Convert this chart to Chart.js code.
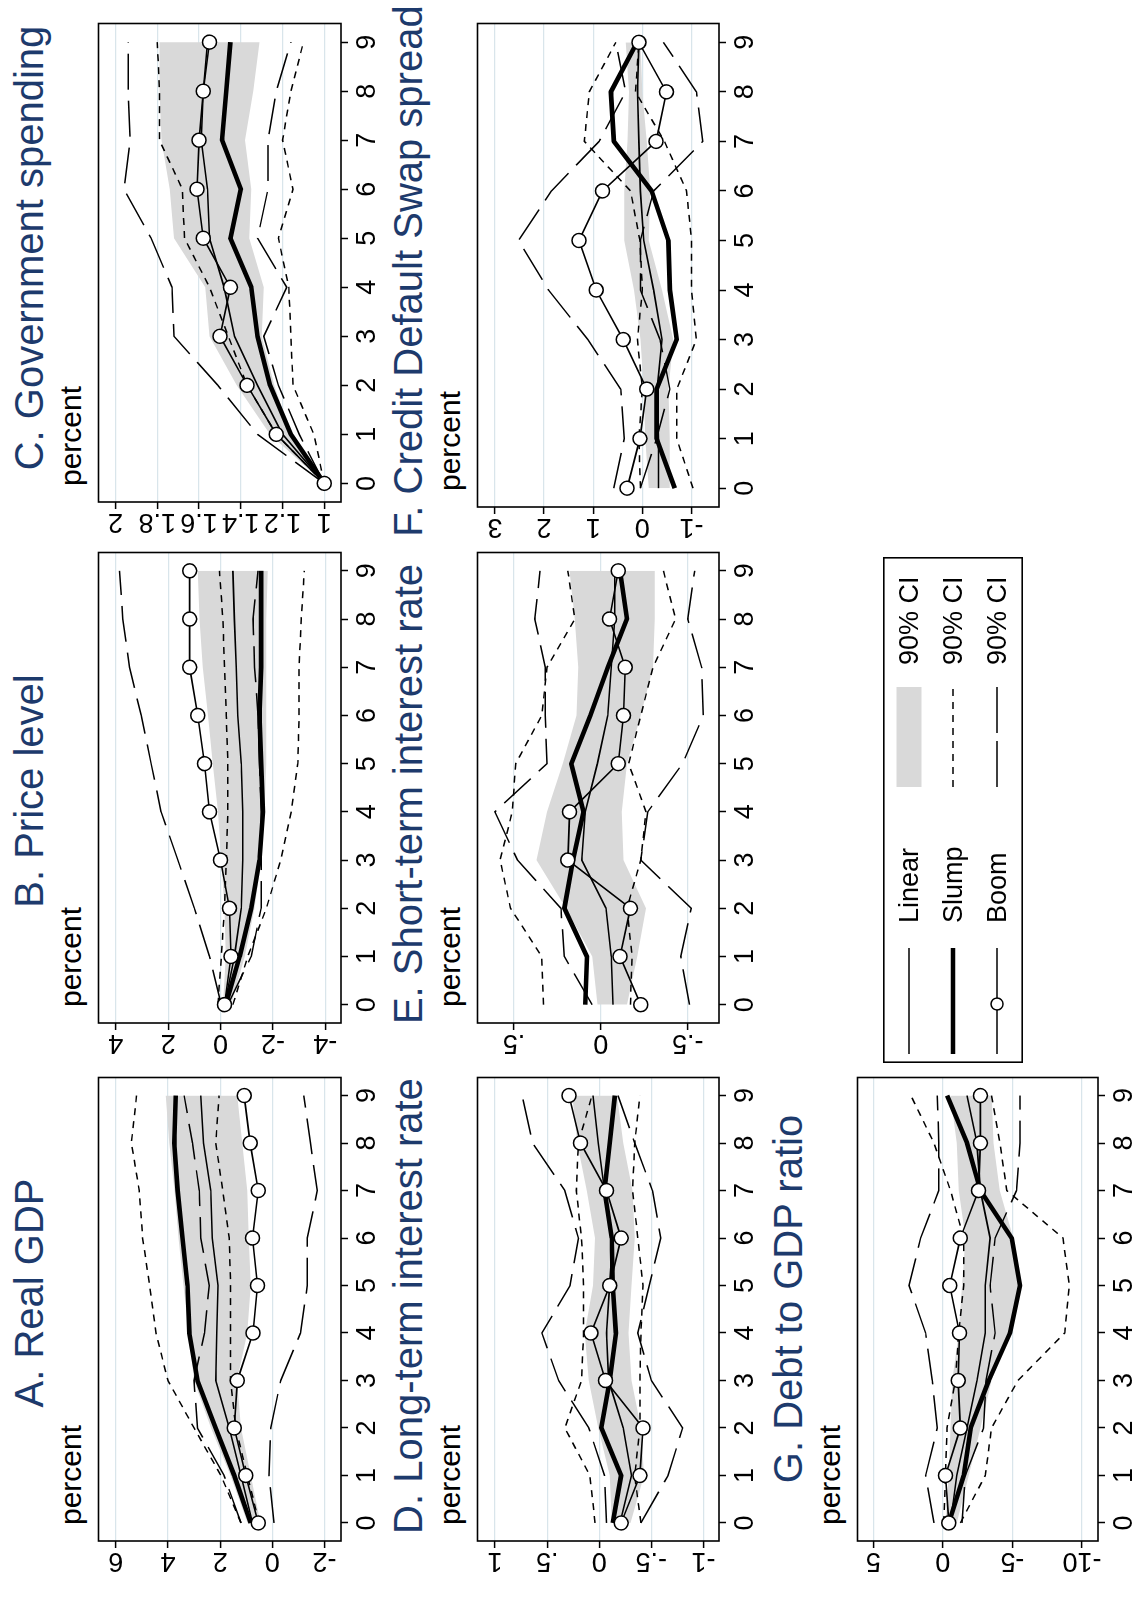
<!DOCTYPE html>
<html>
<head>
<meta charset="utf-8">
<script src="https://cdn.jsdelivr.net/npm/chart.js@4.4.1/dist/chart.umd.min.js"></script>
<style>
html, body { margin: 0; padding: 0; background: #fff; overflow: hidden; }
#page { position: relative; width: 1132px; height: 1602px; overflow: hidden; }
#fig { position: absolute; left: 0; top: 0; width: 1602px; height: 1132px;
       transform-origin: 0 0; transform: translateY(1602px) rotate(-90deg);
       font-family: 'Liberation Sans', Arial, sans-serif; color: #000; }
#fig canvas { position: absolute; }
.title { position: absolute; width: 700px; text-align: center; font-size: 40px; line-height: 40px; color: #1d3a6c; white-space: nowrap; }
.ytitle { position: absolute; font-size: 30px; line-height: 30px; white-space: nowrap; }
.lgtext { position: absolute; font-size: 27px; line-height: 27px; white-space: nowrap; }
</style>
</head>
<body>
<div id="page"><div id="fig"></div></div>
<script>
// horizon (years after the shock)
var horizons = [0, 1, 2, 3, 4, 5, 6, 7, 8, 9]

// A. Real GDP
var gdpLinear   = [0.76, 1.2, 1.65, 2.17, 2.13, 2.08, 2.3, 2.36, 2.64, 2.74]
var gdpLinearLo = [0.45, 0.83, 1.2, 1.35, 0.96, 0.83, 0.9, 0.96, 1.15, 1.34]
var gdpLinearHi = [0.95, 1.6, 2.35, 3.0, 3.2, 3.4, 3.6, 3.75, 3.95, 4.08]
var gdpSlump    = [0.83, 1.46, 2.17, 2.87, 3.18, 3.25, 3.44, 3.63, 3.76, 3.7]
var gdpSlumpLo  = [0.5, 0.96, 1.4, 1.6, 1.6, 1.6, 1.65, 1.9, 2.17, 2.04]
var gdpSlumpHi  = [1.2, 1.97, 3.0, 4.0, 4.46, 4.7, 4.97, 5.1, 5.4, 5.2]
var gdpBoom     = [0.54, 1.02, 1.46, 1.34, 0.74, 0.57, 0.76, 0.54, 0.85, 1.08]
var gdpBoomLo   = [-0.06, 0.13, 0.06, -0.32, -1.08, -1.34, -1.34, -1.72, -1.46, -1.2]
var gdpBoomHi   = [1.2, 1.85, 2.87, 3.0, 2.6, 2.42, 2.74, 2.8, 3.06, 3.38]
var gdpTicks    = [-2, 0, 2, 4, 6]

// B. Price level
var priceLinear   = [-0.15, -0.53, -0.79, -0.85, -0.85, -0.79, -0.66, -0.6, -0.53, -0.47]
var priceLinearLo = [-0.4, -0.92, -1.3, -1.55, -1.68, -1.75, -1.75, -1.75, -1.75, -1.8]
var priceLinearHi = [-0.09, -0.2, -0.15, -0.03, 0.1, 0.3, 0.48, 0.68, 0.8, 0.87]
var priceSlump    = [-0.2, -0.73, -1.17, -1.49, -1.62, -1.55, -1.49, -1.55, -1.55, -1.55]
var priceSlumpLo  = [-0.47, -1.04, -1.75, -2.3, -2.7, -2.95, -3.0, -3.0, -3.08, -3.2]
var priceSlumpHi  = [0.1, -0.03, -0.15, -0.22, -0.28, -0.28, -0.22, -0.15, -0.09, 0.04]
var priceBoom     = [-0.15, -0.4, -0.34, 0.0, 0.42, 0.61, 0.87, 1.18, 1.18, 1.18]
var priceBoomLo   = [-0.28, -1.17, -1.55, -1.55, -1.55, -1.49, -1.43, -1.3, -1.24, -1.43]
var priceBoomHi   = [-0.03, 0.42, 1.0, 1.63, 2.27, 2.65, 3.03, 3.48, 3.73, 3.86]
var priceTicks    = [-4, -2, 0, 2, 4]

// C. Government spending
var govLinear   = [1, 1.2, 1.32, 1.43, 1.48, 1.55, 1.56, 1.59, 1.58, 1.56]
var govLinearLo = [1, 1.16, 1.24, 1.3, 1.29, 1.36, 1.35, 1.38, 1.34, 1.31]
var govLinearHi = [1, 1.26, 1.42, 1.55, 1.57, 1.72, 1.74, 1.78, 1.79, 1.79]
var govSlump    = [1, 1.16, 1.26, 1.32, 1.35, 1.45, 1.4, 1.49, 1.47, 1.45]
var govSlumpLo  = [1, 1.05, 1.15, 1.16, 1.17, 1.22, 1.15, 1.2, 1.16, 1.1]
var govSlumpHi  = [1, 1.23, 1.37, 1.46, 1.55, 1.67, 1.68, 1.79, 1.79, 1.8]
var govBoom     = [1, 1.23, 1.37, 1.5, 1.45, 1.58, 1.61, 1.6, 1.58, 1.55]
var govBoomLo   = [1, 1.12, 1.22, 1.29, 1.18, 1.32, 1.27, 1.27, 1.23, 1.16]
var govBoomHi   = [1, 1.32, 1.51, 1.72, 1.73, 1.83, 1.96, 1.93, 1.94, 1.94]
var govTicks    = [1, 1.2, 1.4, 1.6, 1.8, 2]

// D. Long-term interest rate
var ltrLinear   = [-0.2, -0.31, -0.23, -0.09, -0.07, -0.1, -0.13, -0.05, 0.01, 0.06]
var ltrLinearLo = [-0.3, -0.43, -0.4, -0.31, -0.28, -0.31, -0.34, -0.32, -0.23, -0.17]
var ltrLinearHi = [-0.12, -0.1, 0.01, 0.1, 0.14, 0.06, 0.04, 0.12, 0.21, 0.26]
var ltrSlump    = [-0.13, -0.21, -0.02, -0.1, -0.16, -0.13, -0.12, -0.05, -0.1, -0.15]
var ltrSlumpLo  = [-0.4, -0.34, -0.39, -0.39, -0.4, -0.42, -0.37, -0.32, -0.34, -0.39]
var ltrSlumpHi  = [0.04, 0.09, 0.33, 0.17, 0.15, 0.15, 0.17, 0.22, 0.2, 0.07]
var ltrBoom     = [-0.21, -0.39, -0.42, -0.06, 0.08, -0.1, -0.21, -0.07, 0.18, 0.29]
var ltrBoomLo   = [-0.4, -0.66, -0.8, -0.5, -0.37, -0.48, -0.59, -0.51, -0.34, -0.18]
var ltrBoomHi   = [-0.07, -0.05, 0.1, 0.39, 0.55, 0.28, 0.2, 0.33, 0.64, 0.74]
var ltrTicks    = [-1, -0.5, 0, 0.5, 1]

// E. Short-term interest rate
var strLinear   = [-0.07, -0.06, -0.03, 0.11, 0.09, 0.02, -0.04, -0.06, -0.08, -0.08]
var strLinearLo = [-0.15, -0.21, -0.26, -0.13, -0.12, -0.15, -0.23, -0.3, -0.31, -0.31]
var strLinearHi = [0.02, 0.05, 0.2, 0.37, 0.31, 0.22, 0.14, 0.13, 0.15, 0.18]
var strSlump    = [0.09, 0.08, 0.21, 0.16, 0.1, 0.17, 0.06, -0.04, -0.15, -0.11]
var strSlumpLo  = [-0.17, -0.18, -0.15, -0.23, -0.26, -0.16, -0.23, -0.3, -0.43, -0.36]
var strSlumpHi  = [0.33, 0.34, 0.52, 0.58, 0.51, 0.49, 0.34, 0.31, 0.15, 0.19]
var strBoom     = [-0.23, -0.11, -0.17, 0.19, 0.18, -0.1, -0.13, -0.14, -0.05, -0.1]
var strBoomLo   = [-0.51, -0.46, -0.52, -0.23, -0.27, -0.47, -0.59, -0.58, -0.5, -0.54]
var strBoomHi   = [0.05, 0.21, 0.23, 0.48, 0.61, 0.31, 0.32, 0.32, 0.38, 0.35]
var strTicks    = [-0.5, 0, 0.5]

// F. Credit Default Swap spread
var cdsLinear   = [-0.33, -0.33, -0.3, -0.4, -0.23, -0.03, 0.04, 0.07, 0.1, 0.07]
var cdsLinearLo = [-0.56, -0.56, -0.53, -0.63, -0.4, -0.13, -0.16, -0.09, 0.0, 0.04]
var cdsLinearHi = [-0.13, -0.06, -0.03, 0.04, 0.17, 0.37, 0.37, 0.3, 0.27, 0.34]
var cdsSlump    = [-0.66, -0.29, -0.29, -0.7, -0.56, -0.53, -0.19, 0.58, 0.64, 0.11]
var cdsSlumpLo  = [-1.03, -0.7, -0.7, -1.1, -1.0, -1.0, -0.9, -0.45, 0.14, 0.07]
var cdsSlumpHi  = [0.04, 0.07, 0.0, 0.1, 0.0, 0.05, 0.24, 1.18, 1.08, 0.54]
var cdsBoom     = [0.31, 0.05, -0.09, 0.39, 0.94, 1.29, 0.81, -0.28, -0.49, 0.07]
var cdsBoomLo   = [0.04, -0.29, -0.56, -0.36, 0.04, 0.04, -0.23, -1.23, -1.1, -0.43]
var cdsBoomHi   = [0.58, 0.37, 0.44, 1.11, 1.91, 2.52, 1.85, 0.88, 0.34, 0.54]
var cdsTicks    = [-1, 0, 1, 2, 3]

// G. Debt to GDP ratio
var debtLinear   = [-0.55, -1.0, -1.74, -2.45, -3.05, -3.05, -3.4, -2.7, -2.45, -1.74]
var debtLinearLo = [-1.0, -1.86, -2.7, -3.5, -4.83, -5.4, -5.07, -4.1, -3.64, -3.52]
var debtLinearHi = [-0.19, -0.43, -0.55, -0.67, -1.14, -1.38, -1.62, -1.14, -1.0, -0.55]
var debtSlump    = [-0.43, -1.5, -2.0, -3.3, -4.83, -5.55, -4.95, -2.7, -1.74, -0.31]
var debtSlumpLo  = [-1.26, -3.05, -3.5, -5.4, -8.76, -9.1, -8.64, -4.6, -4.1, -3.5]
var debtSlumpHi  = [-0.07, -0.19, -0.3, -0.9, -1.14, -1.5, -1.5, -0.55, 0.64, 2.3]
var debtBoom     = [-0.43, -0.19, -1.26, -1.1, -1.2, -0.5, -1.26, -2.57, -2.7, -2.7]
var debtBoomLo   = [-1.38, -1.62, -2.93, -3.1, -3.76, -3.4, -3.76, -5.3, -5.55, -5.55]
var debtBoomHi   = [0.64, 1.24, 0.4, 0.76, 1.24, 2.43, 1.6, 0.29, 0.29, 0.4]
var debtTicks    = [-10, -5, 0, 5]

var legendNames = ['Linear', 'Slump', 'Boom']
var legendCI = '90% CI'

// layout of the unrotated figure (1602 x 1132), rotated by css at the end
var panels = [
  {title: 'A. Real GDP', box: [61, 96, 527, 341], range: [-2.63, 6.66], ticks: gdpTicks, titleU: 309,
   s: [gdpLinear, gdpLinearLo, gdpLinearHi, gdpSlump, gdpSlumpLo, gdpSlumpHi, gdpBoom, gdpBoomLo, gdpBoomHi]},
  {title: 'B. Price level', box: [579, 96, 1052, 341], range: [-4.6, 4.66], ticks: priceTicks, titleU: 811,
   s: [priceLinear, priceLinearLo, priceLinearHi, priceSlump, priceSlumpLo, priceSlumpHi, priceBoom, priceBoomLo, priceBoomHi]},
  {title: 'C. Government spending', box: [1100, 96, 1581, 341], range: [0.92, 2.082], ticks: govTicks, titleU: 1354,
   s: [govLinear, govLinearLo, govLinearHi, govSlump, govSlumpLo, govSlumpHi, govBoom, govBoomLo, govBoomHi]},
  {title: 'D. Long-term interest rate', box: [61, 475, 527, 719], range: [-1.149, 1.168], ticks: ltrTicks, titleU: 296,
   s: [ltrLinear, ltrLinearLo, ltrLinearHi, ltrSlump, ltrSlumpLo, ltrSlumpHi, ltrBoom, ltrBoomLo, ltrBoomHi]},
  {title: 'E. Short-term interest rate', box: [579, 475, 1052, 719], range: [-0.68, 0.71], ticks: strTicks, titleU: 808,
   s: [strLinear, strLinearLo, strLinearHi, strSlump, strSlumpLo, strSlumpHi, strBoom, strBoomLo, strBoomHi]},
  {title: 'F. Credit Default Swap spread', box: [1095, 475, 1581, 719], range: [-1.56, 3.355], ticks: cdsTicks, titleU: 1331,
   s: [cdsLinear, cdsLinearLo, cdsLinearHi, cdsSlump, cdsSlumpLo, cdsSlumpHi, cdsBoom, cdsBoomLo, cdsBoomHi]},
  {title: 'G. Debt to GDP ratio', box: [61, 855, 527, 1098], range: [-11.16, 6.14], ticks: debtTicks, titleU: 303,
   s: [debtLinear, debtLinearLo, debtLinearHi, debtSlump, debtSlumpLo, debtSlumpHi, debtBoom, debtBoomLo, debtBoomHi]}
]

var fig = document.getElementById('fig')
var FONT = 'Liberation Sans, Arial, sans-serif'
var tickFont = {family: FONT, size: 27}
var SHORT = [7, 6]
var LONG = [36, 11]
var measure = document.createElement('canvas').getContext('2d')

// stata style labels: .5, -.5
function stataLabel(v) {
  var s = String(Math.round(v * 1000) / 1000)
  return s.replace(/^(-?)0\./, '$1.')
}

function pts(arr) {
  return horizons.map(function (h, i) { return {x: h, y: arr[i]} })
}

var framePlugin = {
  id: 'frame',
  afterDraw: function (chart) {
    var a = chart.chartArea
    var ctx = chart.ctx
    ctx.save()
    ctx.strokeStyle = '#000'
    ctx.lineWidth = 1.6
    ctx.strokeRect(a.left, a.top, a.right - a.left, a.bottom - a.top)
    ctx.restore()
  }
}

function addText(cls, text, left, top, extra) {
  var d = document.createElement('div')
  d.className = cls
  d.textContent = text
  d.style.left = left + 'px'
  d.style.top = top + 'px'
  if (extra) d.style.cssText += extra
  fig.appendChild(d)
  return d
}

function makePanel(p) {
  var yW = 60, padT = 6, padR = 6, xH = 44
  var L = p.box[0], T = p.box[1], R = p.box[2], B = p.box[3]
  var cv = document.createElement('canvas')
  cv.width = yW + (R - L) + padR
  cv.height = padT + (B - T) + xH
  cv.style.left = (L - yW) + 'px'
  cv.style.top = (T - padT) + 'px'
  fig.appendChild(cv)

  // centre the rotated y labels 19px left of the frame
  measure.font = '27px ' + FONT
  var widest = Math.max.apply(null, p.ticks.map(function (v) { return measure.measureText(stataLabel(v)).width }))
  var yPad = 19 - 7 - widest / 2

  var s = p.s
  var line = function (data, w, dash, order) {
    return {data: pts(data), borderColor: '#000', borderWidth: w, borderDash: dash, pointRadius: 0, fill: false, order: order}
  }
  var datasets = [
    {data: pts(s[6]), borderColor: '#000', borderWidth: 1.6, pointRadius: 7, pointBorderWidth: 1.5,
     pointBackgroundColor: '#fff', pointBorderColor: '#000', fill: false, order: 0},
    line(s[3], 4.6, [], 1),
    line(s[0], 1.6, [], 2),
    line(s[5], 1.5, SHORT, 3),
    line(s[4], 1.5, SHORT, 3),
    line(s[8], 1.5, LONG, 4),
    line(s[7], 1.5, LONG, 4),
    {data: pts(s[2]), borderColor: 'rgba(0,0,0,0)', pointRadius: 0, fill: '+1', backgroundColor: '#d9d9d9', order: 5},
    {data: pts(s[1]), borderColor: 'rgba(0,0,0,0)', pointRadius: 0, fill: false, order: 6}
  ]

  new Chart(cv.getContext('2d'), {
    type: 'line',
    data: {datasets: datasets},
    options: {
      responsive: false,
      animation: false,
      devicePixelRatio: 1,
      layout: {padding: {left: 0, top: padT, right: padR, bottom: 0}},
      plugins: {legend: {display: false}, tooltip: {enabled: false}},
      elements: {line: {tension: 0, borderJoinStyle: 'round'}},
      scales: {
        x: {
          type: 'linear', position: 'bottom', min: -0.38, max: 9.38,
          afterBuildTicks: function (sc) { sc.ticks = horizons.map(function (v) { return {value: v} }) },
          afterFit: function (sc) { sc.height = xH; sc.paddingLeft = 0; sc.paddingRight = 0 },
          grid: {drawOnChartArea: false, drawTicks: true, tickLength: 7, tickColor: '#000', tickWidth: 1.5},
          border: {display: false},
          ticks: {color: '#000', font: tickFont, padding: 3, minRotation: 0, maxRotation: 0, autoSkip: false}
        },
        y: {
          type: 'linear', min: p.range[0], max: p.range[1],
          afterBuildTicks: function (sc) { sc.ticks = p.ticks.map(function (v) { return {value: v} }) },
          afterFit: function (sc) { sc.width = yW; sc.paddingTop = 0; sc.paddingBottom = 0 },
          grid: {color: '#d9e5eb', lineWidth: 1.2, drawTicks: true, tickLength: 7, tickColor: '#000', tickWidth: 1.5},
          border: {display: false},
          ticks: {color: '#000', font: tickFont, minRotation: 90, maxRotation: 90, crossAlign: 'center',
                  padding: yPad, autoSkip: false, callback: function (v) { return stataLabel(v) }}
        }
      }
    },
    plugins: [framePlugin]
  })

  addText('title', p.title, p.titleU - 350, T - 53 - 34)
  addText('ytitle', 'percent', L + 16, T - 15 - 25)
}

panels.forEach(makePanel)

// legend box
function makeLegend() {
  var L = 539, T = 883, W = 506, H = 140
  var rows = [26, 70, 114]
  var cv = document.createElement('canvas')
  cv.width = W
  cv.height = H
  cv.style.left = L + 'px'
  cv.style.top = T + 'px'
  fig.appendChild(cv)
  var ctx = cv.getContext('2d')
  ctx.strokeStyle = '#000'
  ctx.lineWidth = 1.6
  ctx.strokeRect(0.8, 0.8, W - 1.6, H - 1.6)

  function seg(y, x0, x1, w, dash) {
    ctx.save()
    ctx.lineWidth = w
    ctx.setLineDash(dash)
    ctx.beginPath()
    ctx.moveTo(x0, y)
    ctx.lineTo(x1, y)
    ctx.stroke()
    ctx.restore()
  }
  seg(rows[0], 9, 115, 1.6, [])
  seg(rows[1], 9, 115, 4.6, [])
  seg(rows[2], 9, 115, 1.6, [])
  ctx.beginPath()
  ctx.arc(59, rows[2], 6, 0, Math.PI * 2)
  ctx.fillStyle = '#fff'
  ctx.fill()
  ctx.lineWidth = 1.5
  ctx.stroke()

  ctx.fillStyle = '#d9d9d9'
  ctx.fillRect(276, rows[0] - 12.5, 100, 25)
  seg(rows[1], 276, 376, 1.5, SHORT)
  seg(rows[2], 276, 376, 1.5, [46, 8])

  legendNames.forEach(function (name, i) {
    addText('lgtext', name, L + 140, T + rows[i] - 13)
    addText('lgtext', legendCI, L + 398, T + rows[i] - 13)
  })
}
makeLegend()
</script>
</body>
</html>
